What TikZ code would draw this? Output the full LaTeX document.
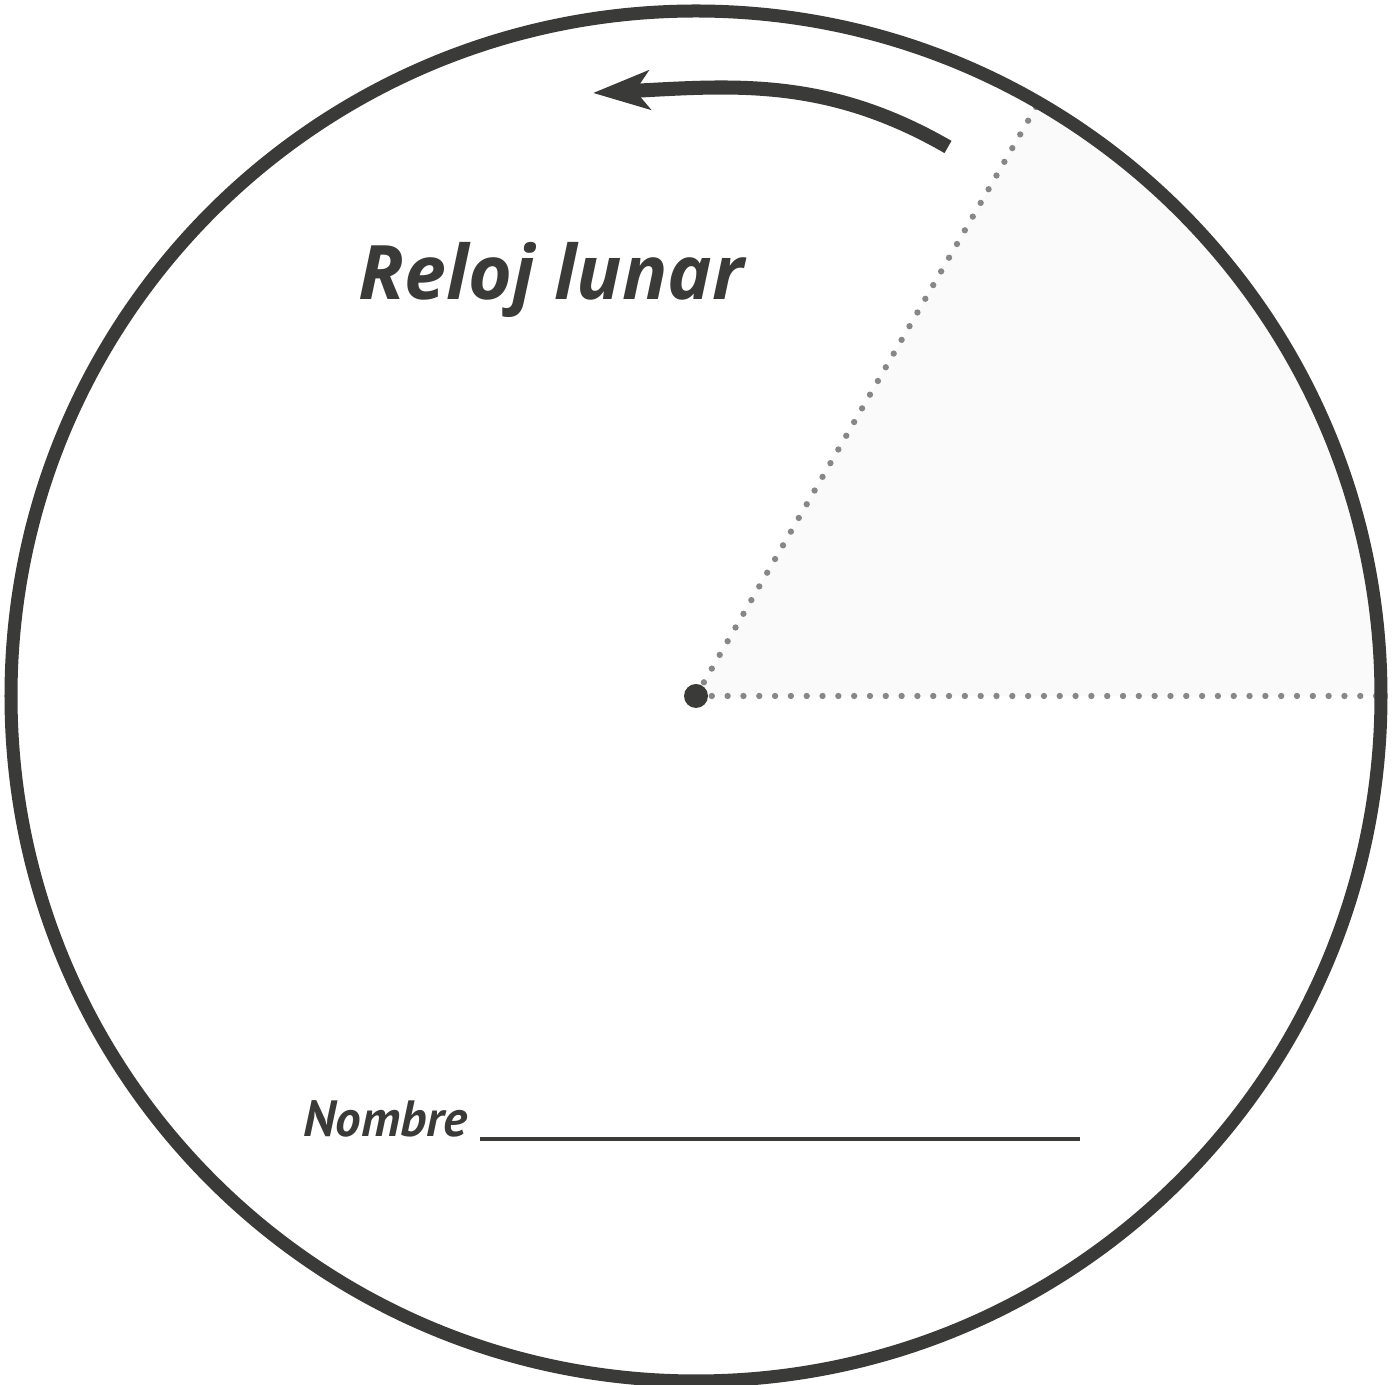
\documentclass[tikz,border=0pt]{standalone}
\usepackage{fontspec}
\setmainfont{PT Sans}
\newfontfamily\titlefam{Open Sans}
\usetikzlibrary{arrows.meta,calc}
\definecolor{ink}{HTML}{3A3A38}
\definecolor{dotgray}{HTML}{878787}
\definecolor{wedge}{HTML}{FAFAFA}
\tikzset{
  dotline/.style={dotgray, line width=1.8pt, line cap=round, dash pattern=on 0pt off 4.5pt},
  titlefont/.style={font=\titlefam\fontsize{21.4}{25}\selectfont\bfseries\itshape, text=ink, inner sep=0pt}
}

\begin{document}
\begin{tikzpicture}
        \useasboundingbox (0,0) rectangle (13.96,13.85);
        \coordinate (c) at (6.96,6.89);
        \coordinate (e0) at ($(c)+(0:6.85)$);
        \fill[wedge] (c) -- (e0) arc (0:60:6.85) -- cycle;
        \draw[dotline] (c) -- (e0);
        \draw[dotline] (c) -- ($(c)+(60:6.85)$);
        \draw[ink, line width=3.7pt] (c) circle (6.85);
        \fill[ink] (c) circle (0.12);
        \coordinate (tail) at (9.48,12.38);
        \coordinate (tip) at (5.93,12.92);
        \draw[ink, line width=4pt, -{Stealth[length=16pt, width=11pt, inset=4pt]}] (tail) to[out=150, in=3] (tip);
        \node[titlefont, anchor=base west] (title) at (3.58,10.85) {Reloj lunar};
        \node[font=\fontsize{14.5}{17}\selectfont\bfseries\itshape, text=ink, inner sep=0pt, anchor=base west] (name) at (3.03,2.48) {Nombre \textcolor{ink}{\rule[-1pt]{6.0cm}{1pt}}};
\end{tikzpicture}
\end{document}
